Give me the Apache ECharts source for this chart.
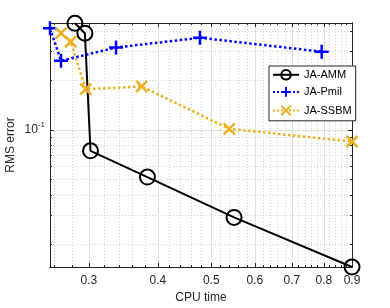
<!DOCTYPE html>
<html><head><meta charset="utf-8">
<script src="https://cdn.jsdelivr.net/npm/echarts@6/dist/echarts.min.js"></script>
<style>html,body{margin:0;padding:0;background:#fff}#c{width:390px;height:308px}</style>
</head><body><div id="c"></div>
<script>
const seriesNames = ['JA-AMM', 'JA-Pmil', 'JA-SSBM'];
const cpuAMM = [0.283, 0.295, 0.302, 0.383, 0.55, 0.9];
const rmsAMM = [0.447, 0.389, 0.0745, 0.0515, 0.0292, 0.01455];
const cpuPmil = [0.255, 0.267, 0.336, 0.477, 0.793];
const rmsPmil = [0.417, 0.264, 0.318, 0.365, 0.300];
const cpuSSBM = [0.267, 0.278, 0.296, 0.374, 0.539, 0.9];
const rmsSSBM = [0.389, 0.345, 0.177, 0.184, 0.1014, 0.0849];
const xMajorTicks = [0.3, 0.4, 0.5, 0.6, 0.7, 0.8, 0.9];
const xMinorTicks = [0.26, 0.28, 0.32, 0.34, 0.36, 0.38, 0.42, 0.44, 0.46, 0.48, 0.52, 0.54, 0.56, 0.58,
  0.62, 0.64, 0.66, 0.68, 0.72, 0.74, 0.76, 0.78, 0.82, 0.84, 0.86, 0.88];
const yMajorTicks = [0.1];
const yMinorTicks = [0.02, 0.03, 0.04, 0.05, 0.06, 0.07, 0.08, 0.09, 0.2, 0.3, 0.4];
const xRange = [0.255, 0.9];
const yRange = [0.01455, 0.449];

const axisColor = '#262626';
const font = 'Helvetica, Arial, "Liberation Sans", sans-serif';

function makeAxis(kind, pos, ticks, major, withLabel, withGrid, extra) {
  const range = kind === 'x' ? xRange : yRange;
  const a = {
    type: 'log', logBase: 10, min: range[0], max: range[1], position: pos,
    axisLine: { show: true, onZero: false, lineStyle: { color: axisColor, width: 1 } },
    axisTick: { show: true, inside: true, length: major ? 4 : 2, customValues: ticks,
      lineStyle: { color: axisColor, width: 1 } },
    axisLabel: withLabel ? Object.assign({ show: true, customValues: ticks, color: axisColor,
      fontSize: 12, fontFamily: font }, withLabel) : { show: false },
    splitLine: withGrid ? { show: true, lineStyle: major
      ? { color: '#dfdfdf', width: 1, type: 'solid' }
      : { color: '#d2d2d2', width: 1, type: [1, 2] } } : { show: false },
    minorTick: { show: false }, minorSplitLine: { show: false }
  };
  return Object.assign(a, extra || {});
}

const xAxes = [
  makeAxis('x', 'bottom', xMajorTicks, true, { margin: 8, formatter: v => (+v).toFixed(1) }, true,
    { name: 'CPU time', nameLocation: 'middle', nameGap: 25, nameMoveOverlap: false,
      nameTextStyle: { color: axisColor, fontSize: 12, fontFamily: font } }),
  makeAxis('x', 'top', xMajorTicks, true, null, false),
  makeAxis('x', 'top', xMinorTicks, false, null, true),
  makeAxis('x', 'bottom', xMinorTicks, false, null, false)
];
const yAxes = [
  makeAxis('y', 'left', yMajorTicks, true, { margin: 5, formatter: () => '{b|10}{s|-1}',
    rich: { b: { fontSize: 12, color: axisColor, fontFamily: font },
            s: { fontSize: 8, color: axisColor, fontFamily: font, verticalAlign: 'bottom', padding: [0, 0, 11, 0] } } }, true,
    { name: 'RMS error', nameLocation: 'middle', nameGap: 33, nameMoveOverlap: false,
      nameTextStyle: { color: axisColor, fontSize: 12, fontFamily: font } }),
  makeAxis('y', 'right', yMajorTicks, true, null, false),
  makeAxis('y', 'right', yMinorTicks, false, null, true),
  makeAxis('y', 'left', yMinorTicks, false, null, false)
];

function pairs(xs, ys) { return xs.map((x, i) => [x, ys[i]]); }

const option = {
  animation: false,
  backgroundColor: '#fff',
  textStyle: { fontFamily: font },
  grid: { left: 50, right: 38, top: 23, bottom: 41, containLabel: false, outerBoundsMode: 'none' },
  xAxis: xAxes,
  yAxis: yAxes,
  legend: {
    orient: 'vertical', left: 269, top: 66,
    itemWidth: 26, itemHeight: 12, itemGap: 4,
    padding: [3, 4, 3, 3],
    borderColor: axisColor, borderWidth: 1, backgroundColor: '#fff',
    textStyle: { color: '#000', fontSize: 11, fontFamily: font },
    data: seriesNames
  },
  series: [
    { name: seriesNames[0], type: 'line', xAxisIndex: 0, yAxisIndex: 0, clip: false,
      data: pairs(cpuAMM, rmsAMM),
      symbol: 'circle', symbolSize: 15,
      itemStyle: { color: 'rgba(0,0,0,0)', borderColor: '#000', borderWidth: 2 },
      lineStyle: { color: '#000', width: 2, type: 'solid' } },
    { name: seriesNames[1], type: 'line', xAxisIndex: 0, yAxisIndex: 0, clip: false,
      data: pairs(cpuPmil, rmsPmil),
      symbol: 'path://M5,0L5,10M0,5L10,5', symbolSize: 14,
      itemStyle: { color: 'none', borderColor: '#0000ff', borderWidth: 2.5 },
      lineStyle: { color: '#0000ff', width: 2.5, type: 'dotted' } },
    { name: seriesNames[2], type: 'line', xAxisIndex: 0, yAxisIndex: 0, clip: false,
      data: pairs(cpuSSBM, rmsSSBM),
      symbol: 'path://M0,0L10,10M0,10L10,0', symbolSize: 11,
      itemStyle: { color: 'none', borderColor: '#EDB120', borderWidth: 2.5 },
      lineStyle: { color: '#EDB120', width: 2.5, type: 'dotted' } }
  ]
};
const chart = echarts.init(document.getElementById('c'), null, { renderer: 'canvas' });
chart.setOption(option);
</script></body></html>
